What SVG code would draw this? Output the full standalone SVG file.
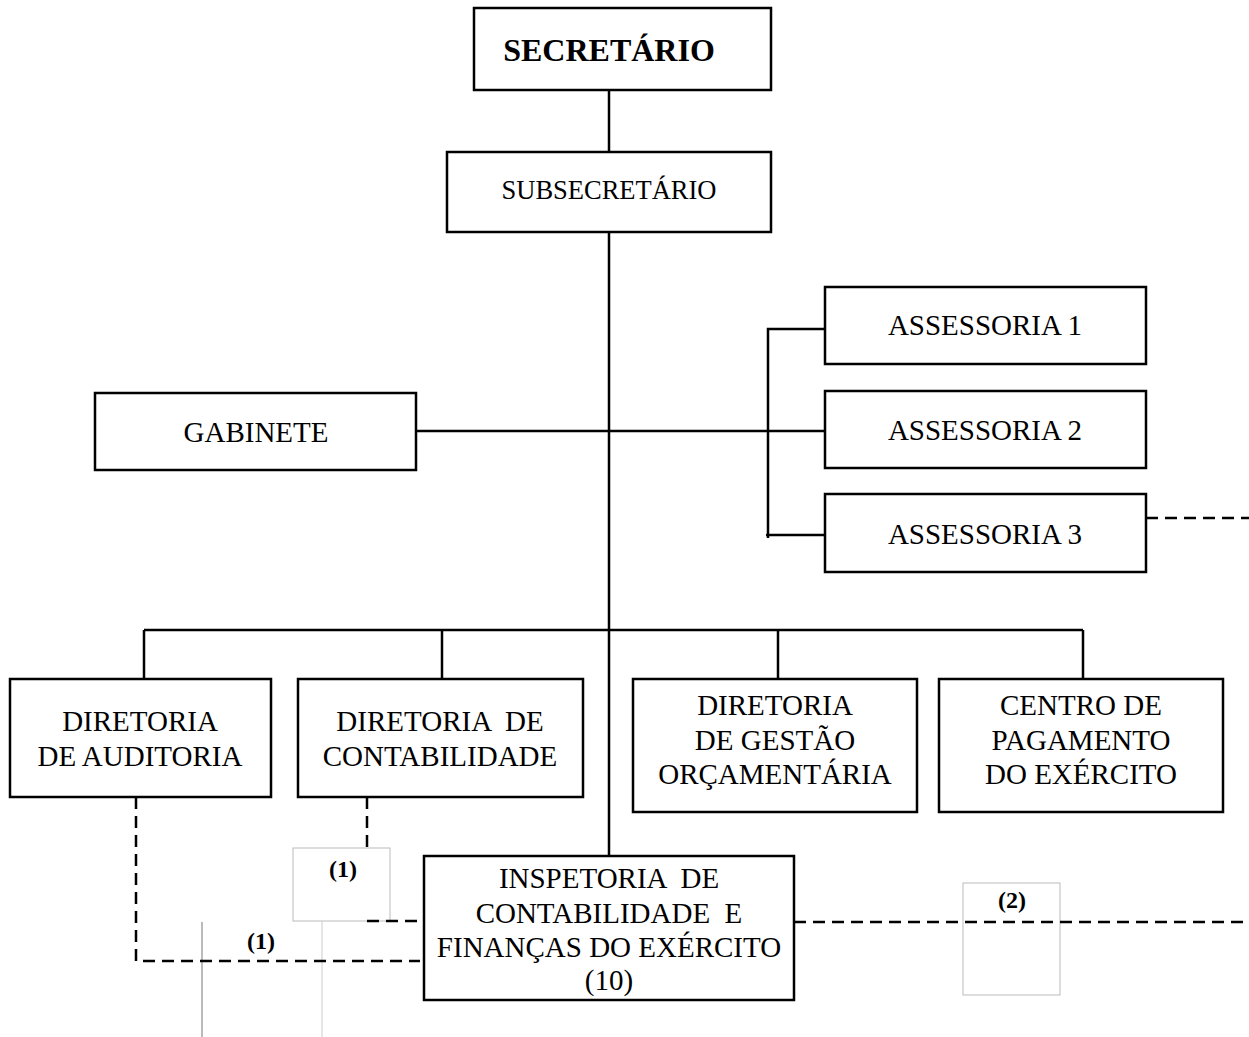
<svg xmlns="http://www.w3.org/2000/svg" width="1249" height="1037" viewBox="0 0 1249 1037">
<style>
.box{fill:#fff;stroke:#000;stroke-width:2.5}
.ghost{fill:none;stroke:#bbb;stroke-width:1}
.ln{stroke:#000;stroke-width:2.5;fill:none}
.dash{stroke:#000;stroke-width:2.5;fill:none;stroke-dasharray:12 7}
.t{font-family:"Liberation Serif","Times New Roman",serif;font-size:29px;text-anchor:middle;fill:#000}
.b{font-weight:bold}
.s{font-size:24px}
</style>
<rect width="1249" height="1037" fill="#fff"/>
<g id="ghost1"><rect class="ghost" x="293" y="848" width="97" height="73"/><text class="t b s" x="343" y="877">(1)</text></g>
<g id="ghost2"><rect class="ghost" x="963" y="883" width="97" height="112"/><text class="t b s" x="1012" y="908">(2)</text></g>
<line x1="202" y1="922" x2="202" y2="1037" stroke="#777" stroke-width="1"/>
<line x1="322" y1="921" x2="322" y2="1037" stroke="#ccc" stroke-width="1"/>
<text class="t b s" x="261" y="949">(1)</text>
<g id="connectors">
<line class="ln" x1="609" y1="90" x2="609" y2="152"/>
<line class="ln" x1="609" y1="232" x2="609" y2="856"/>
<line class="ln" x1="416" y1="431" x2="825" y2="431"/>
<polyline class="ln" points="825,329 768,329 768,538"/>
<line class="ln" x1="766" y1="535" x2="825" y2="535"/>
<line class="dash" x1="1146" y1="518" x2="1249" y2="518"/>
<line class="ln" x1="144" y1="630" x2="1083" y2="630"/>
<line class="ln" x1="144" y1="630" x2="144" y2="679"/>
<line class="ln" x1="442" y1="630" x2="442" y2="679"/>
<line class="ln" x1="778" y1="630" x2="778" y2="679"/>
<line class="ln" x1="1083" y1="630" x2="1083" y2="679"/>
<line class="dash" x1="367" y1="797" x2="367" y2="848"/>
<polyline class="dash" points="136,797 136,961 420,961"/>
<line class="dash" x1="367" y1="921" x2="422" y2="921"/>
<line class="dash" x1="794" y1="922" x2="1249" y2="922"/>
</g>
<g id="secretario"><rect class="box" x="474" y="8" width="297" height="82"/><text class="t b" x="609" y="61" style="font-size:32px">SECRETÁRIO</text></g>
<g id="subsecretario"><rect class="box" x="447" y="152" width="324" height="80"/><text class="t" x="609" y="199" style="font-size:26.5px">SUBSECRETÁRIO</text></g>
<g id="gabinete"><rect class="box" x="95" y="393" width="321" height="77"/><text class="t" x="256" y="442">GABINETE</text></g>
<g id="assessoria1"><rect class="box" x="825" y="287" width="321" height="77"/><text class="t" x="985" y="335">ASSESSORIA 1</text></g>
<g id="assessoria2"><rect class="box" x="825" y="391" width="321" height="77"/><text class="t" x="985" y="440">ASSESSORIA 2</text></g>
<g id="assessoria3"><rect class="box" x="825" y="494" width="321" height="78"/><text class="t" x="985" y="544">ASSESSORIA 3</text></g>
<g id="auditoria"><rect class="box" x="10" y="679" width="261" height="118"/><text class="t" x="140" y="731">DIRETORIA</text><text class="t" x="140" y="766">DE AUDITORIA</text></g>
<g id="contabilidade"><rect class="box" x="298" y="679" width="285" height="118"/><text class="t" x="440" y="731" xml:space="preserve">DIRETORIA  DE</text><text class="t" x="440" y="766">CONTABILIDADE</text></g>
<g id="gestao"><rect class="box" x="633" y="679" width="284" height="133"/><text class="t" x="775" y="715">DIRETORIA</text><text class="t" x="775" y="750">DE GESTÃO</text><text class="t" x="775" y="784">ORÇAMENTÁRIA</text></g>
<g id="centro"><rect class="box" x="939" y="679" width="284" height="133"/><text class="t" x="1081" y="715">CENTRO DE</text><text class="t" x="1081" y="750">PAGAMENTO</text><text class="t" x="1081" y="784">DO EXÉRCITO</text></g>
<g id="inspetoria"><rect class="box" x="424" y="856" width="370" height="144"/><text class="t" x="609" y="888" xml:space="preserve">INSPETORIA  DE</text><text class="t" x="609" y="923" xml:space="preserve">CONTABILIDADE  E</text><text class="t" x="609" y="957">FINANÇAS DO EXÉRCITO</text><text class="t" x="609" y="990">(10)</text></g>
</svg>
